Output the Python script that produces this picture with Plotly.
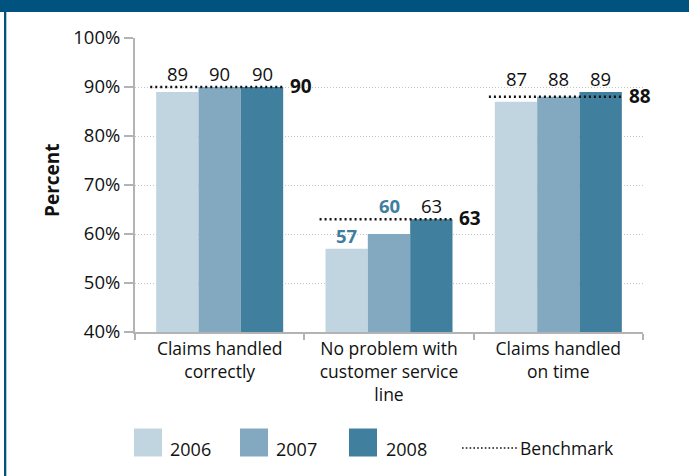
import plotly.graph_objects as go

# ---- data -------------------------------------------------------------
categories = ["Claims handled correctly",
              "No problem with customer service line",
              "Claims handled on time"]
category_labels = ["Claims handled<br>correctly",
                   "No problem with<br>customer service<br>line",
                   "Claims handled<br>on time"]
years = ["2006", "2007", "2008"]
values_2006 = [89, 57, 87]
values_2007 = [90, 60, 88]
values_2008 = [90, 63, 89]
benchmark = [90, 63, 88]
y_tick_values = [40, 50, 60, 70, 80, 90, 100]
y_tick_labels = ["40%", "50%", "60%", "70%", "80%", "90%", "100%"]
highlighted = {(1, 0), (1, 1)}  # (category index, year index) drawn bold in accent colour

# ---- styles -----------------------------------------------------------
W, H = 689, 476
M_L, M_R, M_T, M_B = 135, 46, 38, 144
FONT = "Open Sans"
BAR_COLORS = ["#c1d5e0", "#82a9bf", "#417f9f"]
ACCENT = "#3e7ea0"
FRAME = "#00537f"
AXIS_GRAY = "#b3b3b3"
BARGAP = 0.25

plot_w = W - M_L - M_R
plot_h = H - M_T - M_B


def px(x):
    """screen x (pixels) -> paper x"""
    return (x - M_L) / plot_w


def py(y):
    """screen y (pixels) -> paper y"""
    return (H - M_B - y) / plot_h


series = [values_2006, values_2007, values_2008]

fig = go.Figure()
for name, vals, col in zip(years, series, BAR_COLORS):
    fig.add_trace(go.Bar(x=categories, y=vals, name=name, marker_color=col,
                         marker_line_width=0, showlegend=False))

annotations = []
shapes = []

# value labels above bars
bar_w = (1 - BARGAP) / len(series)
for ci in range(len(categories)):
    group = [s[ci] for s in series]
    top = max(group + [benchmark[ci]])
    for si, s in enumerate(series):
        v = s[ci]
        anchor = top if v >= benchmark[ci] - 3 else v
        hl = (ci, si) in highlighted
        annotations.append(dict(
            x=ci - (1 - BARGAP) / 2 + (si + 0.5) * bar_w, y=anchor,
            xref="x", yref="y", text=f"<b>{v}</b>" if hl else str(v),
            showarrow=False, xanchor="center", yanchor="bottom", yshift=-1,
            font=dict(family=FONT, size=18.5, color=ACCENT if hl else "#111111")))

# benchmark lines and their labels
for ci, b in enumerate(benchmark):
    shapes.append(dict(type="line", xref="x", yref="y",
                       x0=ci - 0.41, x1=ci + 0.385, y0=b, y1=b,
                       line=dict(color="#111111", width=2.5, dash="2px,3px"),
                       layer="above"))
    annotations.append(dict(x=ci + 0.385, y=b, xref="x", yref="y",
                            text=f"<b>{b}</b>", showarrow=False,
                            xanchor="left", yanchor="middle", xshift=3, yshift=1,
                            font=dict(family=FONT, size=19, color="#111111")))

# y-axis title
annotations.append(dict(x=px(52), y=py(180), xref="paper", yref="paper",
                        text="<b>Percent</b>", textangle=-90, showarrow=False,
                        xanchor="center", yanchor="middle",
                        font=dict(family=FONT, size=19, color="#111111")))

# legend
legend_items = [(134, 167.5), (240, 273.5), (349, 384)]
for (bx, tx), yr, col in zip(legend_items, years, BAR_COLORS):
    shapes.append(dict(type="rect", xref="paper", yref="paper",
                       x0=px(bx), x1=px(bx + 28), y0=py(456.5), y1=py(428.5),
                       fillcolor=col, line_width=0))
    annotations.append(dict(x=px(tx), y=py(449), xref="paper", yref="paper",
                            text=yr, showarrow=False, xanchor="left", yanchor="middle",
                            font=dict(family=FONT, size=18, color="#111111")))
shapes.append(dict(type="line", xref="paper", yref="paper",
                   x0=px(462), x1=px(519), y0=py(448), y1=py(448),
                   line=dict(color="#111111", width=1.6, dash="1.6px,2.2px")))
annotations.append(dict(x=px(518), y=py(448), xref="paper", yref="paper",
                        text="Benchmark", showarrow=False, xanchor="left",
                        yanchor="middle",
                        font=dict(family=FONT, size=17.5, color="#111111")))

# frame: top band and left rule
shapes.append(dict(type="rect", xref="paper", yref="paper",
                   x0=px(0), x1=px(W), y0=py(12), y1=py(0),
                   fillcolor=FRAME, line_width=0, layer="above"))
shapes.append(dict(type="rect", xref="paper", yref="paper",
                   x0=px(4), x1=px(6.3), y0=py(H), y1=py(0),
                   fillcolor=FRAME, line_width=0, layer="above"))

fig.update_layout(
    width=W, height=H, autosize=False,
    margin=dict(l=M_L, r=M_R, t=M_T, b=M_B, pad=0),
    paper_bgcolor="white", plot_bgcolor="white",
    barmode="group", bargap=BARGAP, bargroupgap=0,
    font=dict(family=FONT, color="#111111"),
    annotations=annotations, shapes=shapes,
    showlegend=False,
)
fig.update_xaxes(
    type="category", tickmode="array", tickvals=categories, ticktext=category_labels,
    tickson="boundaries", ticks="outside", ticklen=6, tickwidth=2, tickcolor=AXIS_GRAY,
    showline=True, linecolor=AXIS_GRAY, linewidth=2, showgrid=False,
    tickfont=dict(family=FONT, size=17.5, color="#111111"),
    range=[-0.5, 2.5],
)
fig.update_yaxes(
    range=[40, 100], tickmode="array", tickvals=y_tick_values, ticktext=y_tick_labels,
    ticks="outside", ticklen=9, tickwidth=2, tickcolor=AXIS_GRAY,
    showline=True, linecolor=AXIS_GRAY, linewidth=2,
    showgrid=True, gridcolor="#c4c4c4", gridwidth=1, griddash="1px,2px",
    zeroline=False,
    tickfont=dict(family=FONT, size=18.5, color="#111111"),
)

fig.write_html("out.html")
